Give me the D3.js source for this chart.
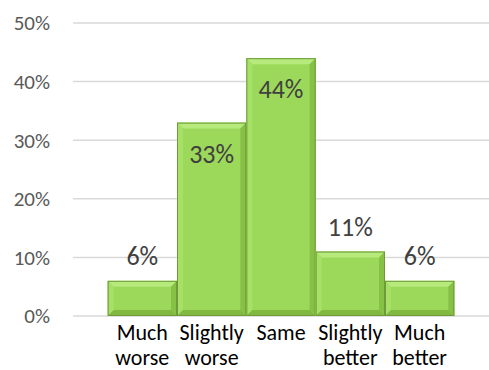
<!DOCTYPE html>
<html>
<head>
<meta charset="utf-8">
<script src="https://cdn.jsdelivr.net/npm/d3@7"></script>
<style>
  body { margin: 0; background: #fff; }
  svg text { font-family: Carlito, Lato, "Open Sans", sans-serif; }
</style>
</head>
<body>
<div id="chart"></div>
<script>
// Data
const categories = [["Much", "worse"], ["Slightly", "worse"], ["Same"], ["Slightly", "better"], ["Much", "better"]];
const values = [0.06, 0.33, 0.44, 0.11, 0.06];
const yTicks = [0, 0.1, 0.2, 0.3, 0.4, 0.5];

const W = 489, H = 370;
const margin = {top: 23, right: 0, bottom: 54, left: 73};

const svg = d3.select("#chart").append("svg")
  .attr("width", W).attr("height", H);

const x = d3.scaleBand()
  .domain(d3.range(values.length))
  .range([margin.left, W - margin.right])
  .paddingInner(0).paddingOuter(0.5);

const y = d3.scaleLinear().domain([0, 0.5]).range([H - margin.bottom, margin.top]);

// Gridlines
svg.append("g").selectAll("line")
  .data(yTicks).enter().append("line")
  .attr("x1", margin.left).attr("x2", W)
  .attr("y1", d => y(d)).attr("y2", d => y(d))
  .attr("stroke", "#d9d9d9").attr("stroke-width", 1.5);

// Y axis labels
svg.append("g").selectAll("text")
  .data(yTicks).enter().append("text")
  .attr("x", 50).attr("y", d => y(d))
  .attr("dy", "0.35em")
  .attr("text-anchor", "end")
  .attr("fill", "#595959")
  .style("font-size", "21px")
  .text(d => Math.round(d * 100) + "%");

// Bars with a bevel look
const bev = 6;
const bars = svg.append("g").selectAll("g")
  .data(values).enter().append("g");

bars.each(function(d, i) {
  const g = d3.select(this);
  const x0 = x(i), x1 = x(i) + x.bandwidth();
  const y0 = y(d), y1 = y(0);
  const b = Math.min(bev, (y1 - y0) / 2);
  // main face
  g.append("rect")
    .attr("x", x0).attr("y", y0)
    .attr("width", x1 - x0).attr("height", y1 - y0)
    .attr("fill", "#9cd85a");
  const facet = (pts, fill) => g.append("polygon")
    .attr("points", pts.map(p => p.join(",")).join(" "))
    .attr("fill", fill);
  // top
  facet([[x0, y0], [x1, y0], [x1 - b, y0 + b], [x0 + b, y0 + b]], "#b6ea7c");
  // left
  facet([[x0, y0], [x0 + b, y0 + b], [x0 + b, y1 - b], [x0, y1]], "#a6e066");
  // right
  facet([[x1, y0], [x1, y1], [x1 - b, y1 - b], [x1 - b, y0 + b]], "#86c045");
  // bottom
  facet([[x0, y1], [x0 + b, y1 - b], [x1 - b, y1 - b], [x1, y1]], "#80b842");
  // outline
  g.append("rect")
    .attr("x", x0 + 0.5).attr("y", y0 + 0.5)
    .attr("width", x1 - x0 - 1).attr("height", y1 - y0 - 1)
    .attr("fill", "none")
    .attr("stroke", "#6f9a3a").attr("stroke-width", 1);
});

// Value labels
svg.append("g").selectAll("text")
  .data(values).enter().append("text")
  .attr("x", (d, i) => x(i) + x.bandwidth() / 2)
  .attr("y", d => d > 0.2 ? y(d) + 31 : y(d) - 25)
  .attr("dy", "0.35em")
  .attr("text-anchor", "middle")
  .attr("fill", "#404040")
  .style("font-size", "26px")
  .text(d => Math.round(d * 100) + "%");

// Category labels
const cat = svg.append("g").selectAll("text")
  .data(categories).enter().append("text")
  .attr("text-anchor", "middle")
  .attr("fill", "#000")
  .style("font-size", "22px");

cat.selectAll("tspan")
  .data((d, i) => d.map(t => ({t, i})))
  .enter().append("tspan")
  .attr("x", d => x(d.i) + x.bandwidth() / 2)
  .attr("y", (d, j) => y(0) + 24 + j * 25)
  .text(d => d.t);
</script>
</body>
</html>
